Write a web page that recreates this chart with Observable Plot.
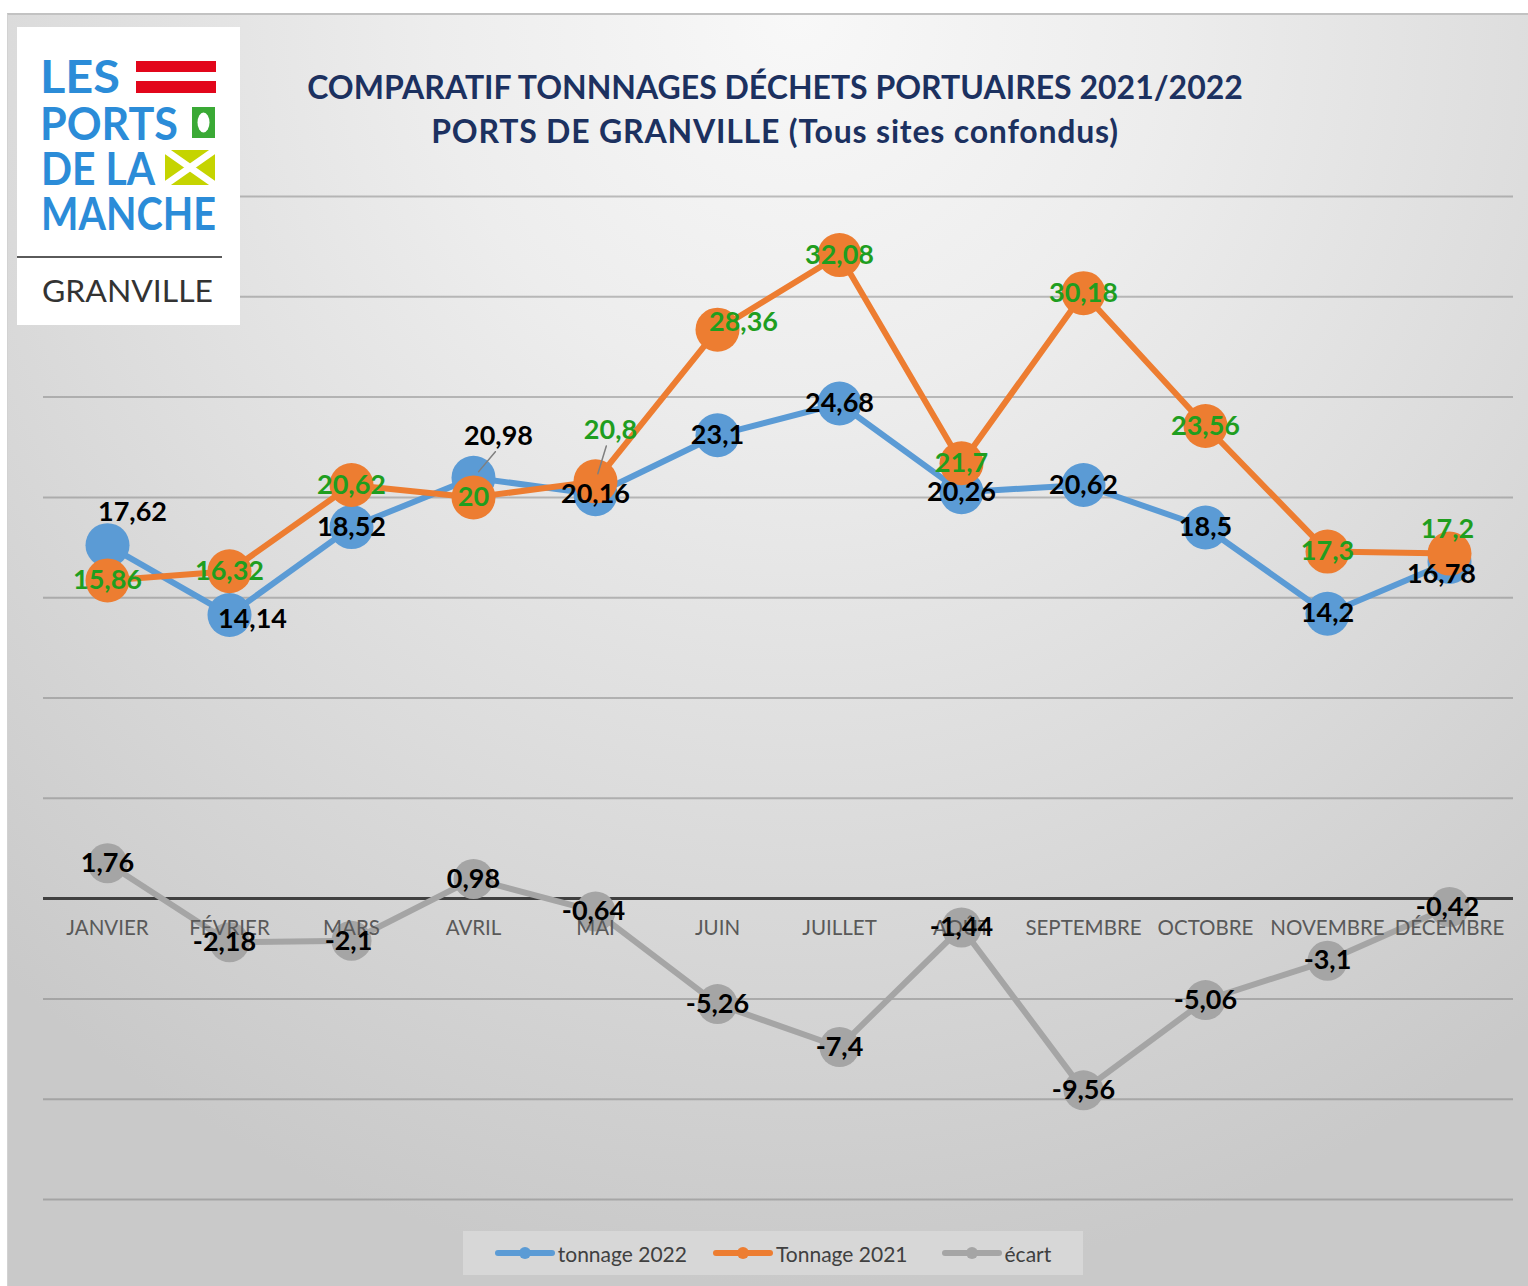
<!DOCTYPE html>
<html><head><meta charset="utf-8">
<script src="https://cdn.jsdelivr.net/npm/d3@7"></script>
<script src="https://cdn.jsdelivr.net/npm/@observablehq/plot@0.6"></script>
<style>
html,body{margin:0;padding:0;background:#fff;}
#wrap{position:relative;width:1528px;height:1286px;overflow:hidden;font-family:Lato,sans-serif;}
#panel{position:absolute;left:7px;top:13px;right:0;bottom:0;
  background:radial-gradient(ellipse 80% 100% at 52% 0%, #f8f8f8 0%, #ededed 30%, #dbdbdb 65%, #c9c9c9 100%);
  border-top:2px solid #c2c2c2;border-left:1px solid #d2d2d2;}
#chart{position:absolute;left:0;top:0;}
.title{position:absolute;left:275px;width:1000px;text-align:center;color:#1c3160;font-weight:bold;font-size:32px;line-height:44px;white-space:nowrap;}
#t1{top:65px;}
#t2{top:109px;letter-spacing:0.8px;}
#logo{position:absolute;left:0;top:0;}
#legend{position:absolute;left:463px;top:1231px;width:620px;height:44px;background:#d7d7d7;display:flex;align-items:center;justify-content:center;font-size:21px;color:#404040;}
.item{display:flex;align-items:center;}
.item svg{margin-right:3px;}
</style></head>
<body>
<div id="wrap">
  <div id="panel"></div>
  <div id="chart"></div>
  <svg id="logo" width="260" height="340" xmlns="http://www.w3.org/2000/svg">
    <rect x="17" y="27" width="223" height="298" fill="#ffffff"/>
    <g font-family="Lato, sans-serif" font-weight="bold" font-size="46" fill="#2b8cd8">
      <text x="40" y="93" textLength="80" lengthAdjust="spacingAndGlyphs">LES</text>
      <text x="40" y="140" textLength="138" lengthAdjust="spacingAndGlyphs">PORTS</text>
      <text x="41" y="185" textLength="114" lengthAdjust="spacingAndGlyphs">DE LA</text>
      <text x="41" y="230" textLength="175" lengthAdjust="spacingAndGlyphs">MANCHE</text>
    </g>
    <rect x="136" y="61" width="80" height="11" fill="#e2061b"/>
    <rect x="136" y="81" width="80" height="12" fill="#e2061b"/>
    <rect x="192" y="107" width="23" height="31" fill="#3aa935"/>
    <ellipse cx="203.5" cy="122.5" rx="6" ry="10" fill="#ffffff"/>
    <rect x="165" y="150" width="50" height="35" fill="#c5d400"/>
    <path d="M165,150 L215,185 M215,150 L165,185" stroke="#ffffff" stroke-width="7"/>
    <line x1="17" y1="257" x2="222" y2="257" stroke="#5a5a5a" stroke-width="2"/>
    <text x="42" y="302" font-family="Lato, sans-serif" font-size="31" fill="#333333" textLength="171" lengthAdjust="spacingAndGlyphs">GRANVILLE</text>
  </svg>
  <div class="title" id="t1">COMPARATIF TONNNAGES DÉCHETS PORTUAIRES 2021/2022</div>
  <div class="title" id="t2">PORTS DE GRANVILLE (Tous sites confondus)</div>
  <div id="legend"></div>
</div>
<script>
const months = ["JANVIER","FÉVRIER","MARS","AVRIL","MAI","JUIN","JUILLET","AOÛT","SEPTEMBRE","OCTOBRE","NOVEMBRE","DÉCEMBRE"];
const tonnage2022 = [17.62,14.14,18.52,20.98,20.16,23.1,24.68,20.26,20.62,18.5,14.2,16.78];
const tonnage2021 = [15.86,16.32,20.62,20,20.8,28.36,32.08,21.7,30.18,23.56,17.3,17.2];
const ecart = [1.76,-2.18,-2.1,0.98,-0.64,-5.26,-7.4,-1.44,-9.56,-5.06,-3.1,-0.42];
const seriesNames = ["tonnage 2022","Tonnage 2021","écart"];
const gridTicks = [-15,-10,-5,5,10,15,20,25,30,35];

// styles
const colors = {"tonnage 2022":"#5b9bd5","Tonnage 2021":"#ed7d31","écart":"#a5a5a5"};
const labelColors = {"tonnage 2022":"#000000","Tonnage 2021":"#1f9e1f","écart":"#000000"};
const markerR = {"tonnage 2022":22,"Tonnage 2021":22,"écart":20};
// label nudges in pixels [dx, dy]
const labelNudge = {
  "tonnage 2022|JANVIER":[25,-33], "tonnage 2022|FÉVRIER":[23,4], "tonnage 2022|AVRIL":[25,-41], "tonnage 2022|DÉCEMBRE":[-8,12],
  "Tonnage 2021|MAI":[15,-51], "Tonnage 2021|JUIN":[26,-7], "Tonnage 2021|DÉCEMBRE":[-2,-24],
  "écart|FÉVRIER":[-5,0], "écart|MARS":[-3,1], "écart|MAI":[-2,0], "écart|DÉCEMBRE":[-2,0]
};
// leader lines [length, rotate]
const leaders = {"tonnage 2022|AVRIL":[34,40], "Tonnage 2021|MAI":[37,17]};

const seriesValues = [tonnage2022, tonnage2021, ecart];
const rows = [];
seriesNames.forEach((s, si) => months.forEach((m, i) => rows.push({series:s, month:m, value:seriesValues[si][i], key:s+"|"+m})));
const fmt = v => String(v).replace(".", ",");

const marks = [
  Plot.ruleY(gridTicks, {stroke:"#777777", strokeOpacity:0.45, strokeWidth:2}),
  Plot.ruleY([0], {stroke:"#404040", strokeWidth:3})
];
for (const s of seriesNames) {
  const d = rows.filter(r => r.series === s);
  marks.push(Plot.line(d, {x:"month", y:"value", stroke:colors[s], strokeWidth:6, strokeLinejoin:"round", strokeLinecap:"round"}));
  marks.push(Plot.dot(d, {x:"month", y:"value", r:markerR[s], fill:colors[s], stroke:"none"}));
}
marks.push(Plot.text(months, {x:d=>d, y:d=>0, dy:30, fill:"#595959", fontSize:20.5, text:d=>d}));
for (const [k, [len, rot]] of Object.entries(leaders)) {
  marks.push(Plot.vector(rows.filter(r => r.key === k), {x:"month", y:"value", length:len, rotate:rot, anchor:"start",
    stroke:"#7f7f7f", strokeWidth:1.5, shape:{draw(ctx, l){ctx.moveTo(0,-8); ctx.lineTo(0,-l);}}}));
}
// labels grouped by nudge
const groups = d3.group(rows, r => (labelNudge[r.key] || [0,0]).join(","), r => r.series);
for (const [nk, bySeries] of groups) {
  const [dx, dy] = nk.split(",").map(Number);
  for (const [s, d] of bySeries) {
    marks.push(Plot.text(d, {x:"month", y:"value", text:r => fmt(r.value), dx, dy, fill:labelColors[s], fontSize:27, fontWeight:"bold"}));
  }
}

const chart = Plot.plot({
  width:1528, height:1286,
  marginLeft:43, marginRight:15, marginTop:196, marginBottom:87,
  x:{type:"point", domain:months, padding:0.5, axis:null},
  y:{domain:[-15,35], axis:null},
  style:{background:"transparent", fontFamily:"Lato, sans-serif", overflow:"visible"},
  marks
});
document.getElementById("chart").appendChild(chart);

const legend = document.getElementById("legend");
seriesNames.forEach((s, i) => {
  const it = document.createElement("div");
  it.className = "item";
  it.style.marginLeft = i === 0 ? "0px" : (i === 1 ? "26px" : "34px");
  it.innerHTML = `<svg width="60" height="14"><line x1="3" y1="7" x2="57" y2="7" stroke="${colors[s]}" stroke-width="6" stroke-linecap="round"/><circle cx="30" cy="7" r="6" fill="${colors[s]}"/></svg><span>${s}</span>`;
  legend.appendChild(it);
});
</script>
</body></html>
